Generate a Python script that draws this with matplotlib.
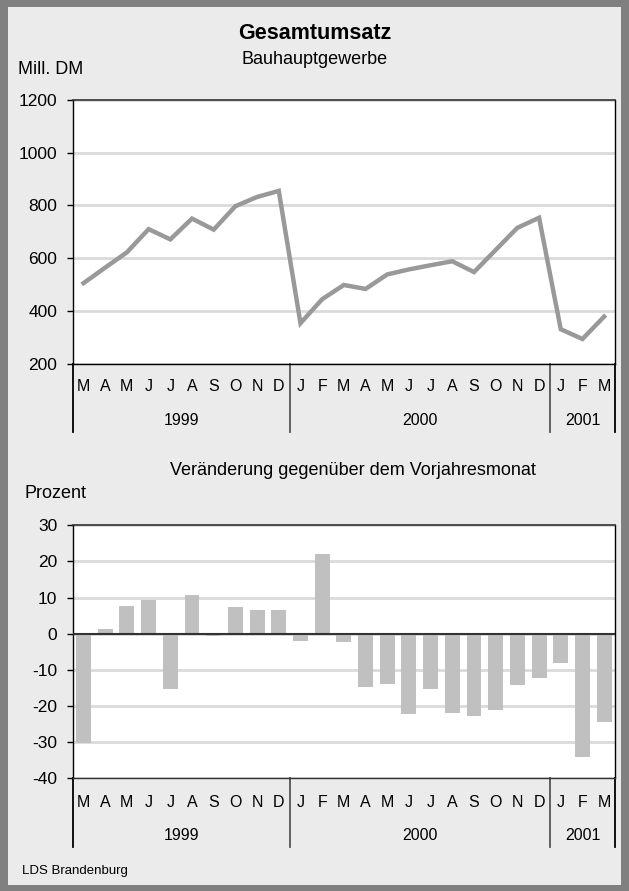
import matplotlib
matplotlib.use("Agg")
import matplotlib.pyplot as plt
import matplotlib.transforms as mtransforms
from matplotlib.patches import Rectangle

plt.rcParams['font.family'] = ['Liberation Sans', 'DejaVu Sans']
plt.rcParams['axes.unicode_minus'] = False

# Monate Maerz 1999 bis Maerz 2001
months = ["M", "A", "M", "J", "J", "A", "S", "O", "N", "D",
          "J", "F", "M", "A", "M", "J", "J", "A", "S", "O", "N", "D",
          "J", "F", "M"]
years = ["1999", "2000", "2001"]
year_len = [10, 12, 3]

# Gesamtumsatz in Mill. DM
umsatz = [505, 564, 622, 710, 671, 750, 708, 797, 832, 855,
          353, 444, 498, 483, 538, 557, 573, 588, 547, 631, 715, 753,
          330, 293, 378]

# Veraenderung gegenueber Vorjahresmonat in Prozent
veraenderung = [-30.3, 1.2, 7.8, 9.2, -15.4, 10.6, -0.7, 7.3, 6.7, 6.7,
                -2.1, 22.0, -2.4, -14.8, -13.9, -22.3, -15.4, -22.0, -22.8, -21.2, -14.2, -12.3,
                -8.1, -34.2, -24.5]

W, H = 629, 891


def fx(x):
    return x / W


def fy(y):
    return 1 - y / H


fig = plt.figure(figsize=(W / 100, H / 100), dpi=100)
fig.patch.set_facecolor('#808080')
fig.patches.append(Rectangle((fx(8), fy(885)), fx(621) - fx(8), fy(7) - fy(885),
                             transform=fig.transFigure, facecolor='#ebebeb',
                             edgecolor='none', zorder=-10))

x = list(range(len(months)))
left, right = 72.7, 615.0


def setup(ax, y_cat):
    ax.set_facecolor('white')
    ax.set_xlim(-0.5, len(months) - 0.5)
    ax.set_xticks([])
    ax.yaxis.grid(True, color='#dadada', lw=2)
    ax.set_axisbelow(True)
    ax.tick_params(axis='y', direction='out', length=4.5, width=1, pad=6.5,
                   labelsize=12.5, colors='black')
    for s in ['left', 'right', 'bottom']:
        ax.spines[s].set_color('black')
        ax.spines[s].set_linewidth(1)
    ax.spines['top'].set_color('#333333')
    ax.spines['top'].set_linewidth(1.2)

    # Kategorienachse mit Monaten und Jahren
    tr = mtransforms.blended_transform_factory(ax.transData, fig.transFigure)
    m_y, yr_y, sep_top, sep_bot = y_cat
    for i, m in enumerate(months):
        ax.text(i, fy(m_y), m, transform=tr, ha='center', va='center',
                fontsize=11.5, clip_on=False)
    start = 0
    seps = [-0.5]
    for yr, n in zip(years, year_len):
        ax.text(start + (n - 1) / 2, fy(yr_y), yr, transform=tr, ha='center',
                va='center', fontsize=11.5, clip_on=False)
        start += n
        seps.append(start - 0.5)
    for i, s in enumerate(seps):
        col = 'black' if i in (0, len(seps) - 1) else '#555555'
        ax.plot([s, s], [fy(sep_top), fy(sep_bot)], transform=tr, color=col,
                lw=1.3, clip_on=False)


# oberes Diagramm
ax1 = fig.add_axes([fx(left), fy(363.5), fx(right) - fx(left), (363.5 - 100) / H])
ax1.plot(x, umsatz, color='#999999', lw=3.2, solid_joinstyle='miter', zorder=3)
ax1.set_ylim(200, 1200)
ax1.set_yticks(range(200, 1201, 200))
setup(ax1, (386.7, 420.7, 363.5, 432.3))

fig.text(0.5, fy(33.5), "Gesamtumsatz", ha='center', va='center',
         fontsize=15.5, fontweight='bold')
fig.text(0.5, fy(60), "Bauhauptgewerbe", ha='center', va='center', fontsize=13)
fig.text(fx(18), fy(70), "Mill. DM", ha='left', va='center', fontsize=13)

# unteres Diagramm
ax2 = fig.add_axes([fx(left), fy(778.3), fx(right) - fx(left), (778.3 - 525.3) / H])
ax2.bar(x, veraenderung, width=0.69, color='#c0c0c0', zorder=3)
ax2.axhline(0, color='#333333', lw=1.5, zorder=4)
ax2.set_ylim(-40, 30)
ax2.set_yticks(range(-40, 31, 10))
setup(ax2, (802.7, 836, 778.3, 847.3))
ax2.spines['bottom'].set_color('#333333')

fig.text(fx(170), fy(470), "Veränderung gegenüber dem Vorjahresmonat",
         ha='left', va='center', fontsize=13)
fig.text(fx(25), fy(493), "Prozent", ha='left', va='center', fontsize=13)
fig.text(fx(21.7), fy(871), "LDS Brandenburg", ha='left', va='center', fontsize=9.5)

fig.savefig('out.png', dpi=100, facecolor=fig.get_facecolor())
